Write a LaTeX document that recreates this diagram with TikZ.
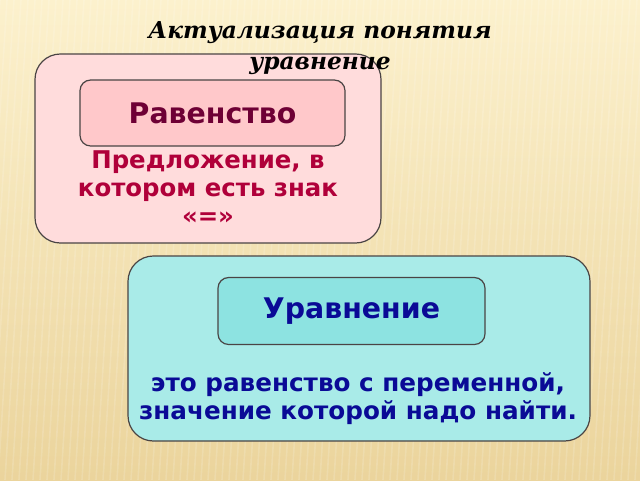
\documentclass[tikz,border=0pt]{standalone}
\usepackage{fontspec}
\setmainfont{DejaVu Sans}
\newfontfamily\titlefont{DejaVu Serif}
\usetikzlibrary{positioning}

\definecolor{bgtop}{HTML}{FCF1CD}
\definecolor{bgbot}{HTML}{EBD49C}
\definecolor{pinkout}{HTML}{FFDCDC}
\definecolor{pinkin}{HTML}{FFC8CA}
\definecolor{tealout}{HTML}{A9EBE8}
\definecolor{tealin}{HTML}{8DE3E1}
\definecolor{edge}{HTML}{4A4444}
\definecolor{maroon}{HTML}{6E0035}
\definecolor{crimson}{HTML}{B0003A}
\definecolor{navy}{HTML}{0A0A96}

\begin{document}
\begin{tikzpicture}[
    x=0.75pt, y=-0.75pt,
    outerbox/.style={rectangle, draw=edge, line width=0.9pt, rounded corners=19pt, inner sep=0pt},
    innerbox/.style={rectangle, draw=edge, line width=0.9pt, rounded corners=8pt, inner sep=0pt, font=\fontsize{21.3}{25}\selectfont\bfseries},
    textblock/.style={align=center, inner sep=0pt, font=\fontsize{18.3}{21}\selectfont\bfseries}
]
\useasboundingbox (0,0) rectangle (640,480);

% background
\shade[top color=bgtop, bottom color=bgbot] (0,0) rectangle (640,480);
\begin{scope}
    \clip (0,0) rectangle (640,480);
    \foreach \i in {0,7,...,680}
        \draw[white, opacity=0.15, line width=1.2pt] (\i,0) -- (\i-30,480);
\end{scope}

% pink block
\node[outerbox, fill=pinkout, minimum width=259.5pt, minimum height=141.75pt] (eqbox) at (208,148.5) {};
\node[innerbox, fill=pinkin, text=maroon, minimum width=198.75pt, minimum height=49.5pt] (eqhead) at (212.5,113) {Равенство};
\node[textblock, text=crimson] (eqtext) at (208,188) {Предложение, в\\котором есть знак\\«=»};

% teal block
\node[outerbox, fill=tealout, minimum width=346.5pt, minimum height=138.75pt] (urbox) at (359,348.5) {};
\node[innerbox, fill=tealin, text=navy, minimum width=200.25pt, minimum height=50.25pt] (urhead) at (351.5,311) {Уравнение};
\node[textblock, text=navy, font=\fontsize{18.5}{21}\selectfont\bfseries] (urtext) at (358,399) {это равенство с переменной,\\значение которой надо найти.};

% title
\node[align=center, inner sep=0pt, font=\titlefont\fontsize{17.5}{23}\selectfont\bfseries\itshape] (title) at (320,48) {Актуализация понятия\\уравнение};

\end{tikzpicture}
\end{document}
